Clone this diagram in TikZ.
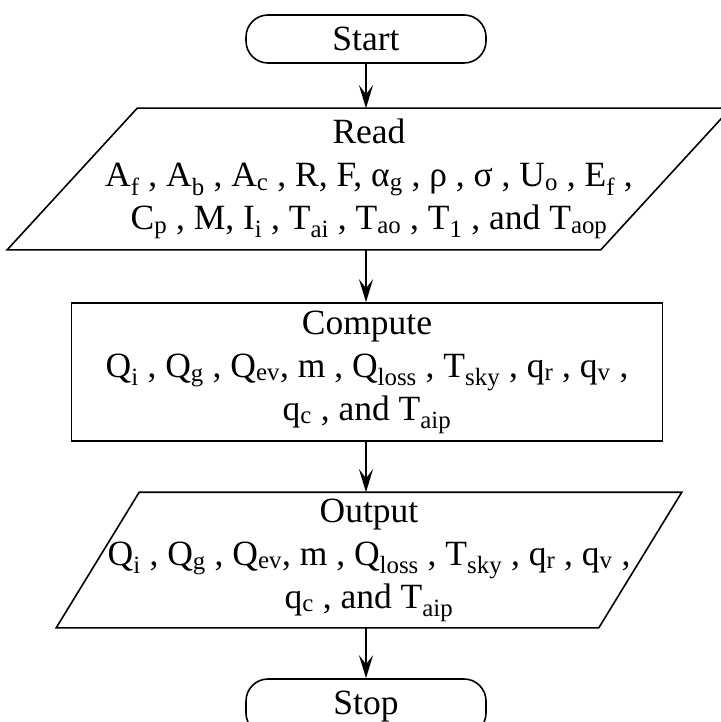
\documentclass[tikz,border=0pt]{standalone}
\usepackage{fontspec}
\setmainfont{Liberation Serif}
\usetikzlibrary{arrows.meta}
\newcommand{\idx}[1]{\textsubscript{#1}}
% slanted outline round an io node: #1 node, #2 half slant
\newcommand{\slantbox}[2]{%
  \draw ([xshift=-#2]#1.south west) -- ([xshift=-#2]#1.south east)
    -- ([xshift=#2]#1.north east) -- ([xshift=#2]#1.north west) -- cycle;}

\begin{document}
\begin{tikzpicture}
  [x=1pt,y=-1pt,line width=1.6pt,
   every node/.style={align=center,font=\fontsize{35.5}{43}\selectfont,inner sep=0pt},
   term/.style={draw,rounded corners=22pt,minimum width=240pt,minimum height=48pt},
   io/.style={rectangle},
   proc/.style={draw,rectangle,minimum width=591pt,minimum height=138pt},
   flow/.style={-{Stealth[length=23pt,width=14pt,inset=9pt]}}]
  \useasboundingbox (0,0) rectangle (720,722);
  \node[term] (start) at (366,39) {Start};
  \node[io,minimum width=592pt,minimum height=140pt] (read) at (369,179)
    {Read\\ A\idx{f} , A\idx{b} , A\idx{c} , R, F, α\idx{g} , ρ , σ , U\idx{o} , E\idx{f} ,\\
     C\idx{p} , M, I\idx{i} , T\idx{ai} , T\idx{ao} , T\idx{1} , and T\idx{aop}};
  \slantbox{read}{65pt}
  \node[proc] (comp) at (367,372)
    {Compute\\ Q\idx{i} , Q\idx{g} , Q\idx{ev}, m , Q\idx{loss} , T\idx{sky} , q\idx{r} , q\idx{v} ,\\
     q\idx{c} , and T\idx{aip}};
  \node[io,minimum width=541pt,minimum height=134pt] (out) at (369,560)
    {Output\\ Q\idx{i} , Q\idx{g} , Q\idx{ev}, m , Q\idx{loss} , T\idx{sky} , q\idx{r} , q\idx{v} ,\\
     q\idx{c} , and T\idx{aip}};
  \slantbox{out}{41.5pt}
  \node[term,minimum height=56pt] (stop) at (366,707) {Stop};

  \foreach \from/\to in {start/read,read/comp,comp/out,out/stop}
    \draw[flow] (\from.south -| start) -- (\to.north -| start);

\end{tikzpicture}
\end{document}
